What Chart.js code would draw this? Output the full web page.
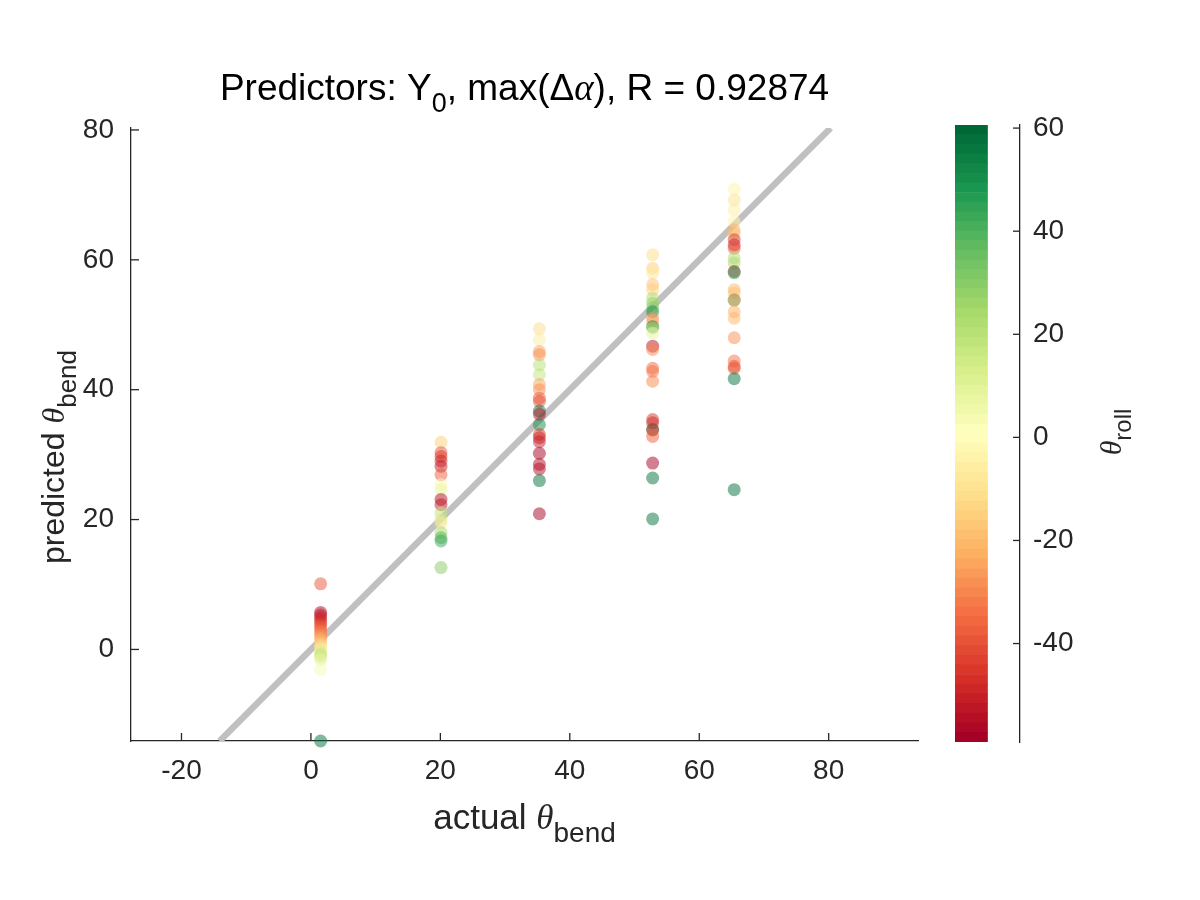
<!DOCTYPE html>
<html><head><meta charset="utf-8">
<script src="https://cdn.jsdelivr.net/npm/chart.js@4.4.0/dist/chart.umd.min.js"></script>
<style>
html,body{margin:0;padding:0;background:#fff;}
#wrap{position:relative;width:1200px;height:900px;background:#fff;}
canvas{position:absolute;left:0;top:0;}
</style></head><body>
<div id="wrap"><canvas id="main" width="1200" height="900"></canvas><canvas id="cbar" width="1200" height="900"></canvas></div>
<script>
// ---------- data ----------
const actualBend = [1.5, 20.1, 35.3, 52.8, 65.4];

const predicted1 = [10.1, 5.7, 5.3, 4.9, 4.5, 4.0, 3.6, 3.2, 2.8, 2.4, 2.0, 1.6, 1.2, 0.8, 0.4, 0.0, -0.4, -0.8, -1.2, -1.6, -3.1, -14.1];
const roll1      = [-40, -57, -52, -50, -48, -45, -40, -37, -33, -30, -27, -22, -18, -14, -10, -6, 12, 18, 15, 8, 3, 57];

const predicted2 = [31.9, 30.3, 29.7, 29.0, 28.2, 26.9, 25.4, 24.6, 23.1, 22.3, 21.0, 20.0, 19.5, 18.0, 17.2, 16.7, 12.6];
const roll2      = [-15, -40, -45, -48, -50, -38, -2, 8, -55, -52, 18, 12, -8, 25, 40, 42, 30];

const predicted3 = [49.4, 47.7, 45.9, 45.4, 43.8, 42.3, 40.8, 40.0, 38.7, 38.2, 36.7, 36.2, 34.6, 33.1, 32.6, 32.0, 30.2, 28.5, 27.8, 26.0, 20.9];
const roll3      = [-12, -5, -25, -28, 20, 18, -25, -28, -38, -40, 55, -55, 50, -45, -48, -50, -59, -55, -55, 57, -59];

const predicted4 = [60.8, 58.7, 58.0, 56.2, 55.4, 54.1, 53.3, 52.6, 52.0, 51.0, 50.5, 49.7, 49.5, 48.7, 46.7, 46.2, 43.3, 42.8, 41.3, 35.4, 34.9, 33.9, 33.8, 32.8, 28.7, 26.4, 20.1];
const roll4      = [-12, -15, -8, -18, -15, 22, 28, 30, 50, -28, -25, 55, 25, 8, -55, -30, -35, -33, -30, -45, -48, 50, -48, -38, -59, 57, 57];

const predicted5 = [70.9, 69.2, 67.7, 65.9, 64.6, 64.1, 63.1, 62.3, 61.8, 60.3, 59.5, 58.2, 58.0, 55.4, 54.9, 53.8, 53.8, 52.0, 51.0, 48.0, 44.4, 43.6, 43.3, 41.7, 24.6];
const roll5      = [-3, -10, -5, -3, -22, -18, -45, -48, -40, 22, 25, -55, 45, -20, -18, 50, -25, -22, -20, -28, -33, -38, -40, 57, 57];

const identityLine = [-14.1, 80.3];
const xTickValues = [-20, 0, 20, 40, 60, 80];
const yTickValues = [0, 20, 40, 60, 80];
const cbarTickValues = [-40, -20, 0, 20, 40, 60];
const xRange = [-27.8, 93.8];
const yRange = [-14.1, 80.3];
const rollRange = [-59.1, 60.6];

// ---------- colormap (RdYlGn, 64 levels) ----------
const rdylgn = ['#a50026','#d73027','#f46d43','#fdae61','#fee08b','#ffffbf','#d9ef8b','#a6d96a','#66bd63','#1a9850','#006837'];
const nLevels = 64;
function hex2rgb(h){return [parseInt(h.slice(1,3),16),parseInt(h.slice(3,5),16),parseInt(h.slice(5,7),16)];}
function cmap(t){
  const s = t*(rdylgn.length-1); const i = Math.min(rdylgn.length-2, Math.floor(s)); const f = s-i;
  const a = hex2rgb(rdylgn[i]), b = hex2rgb(rdylgn[i+1]);
  return a.map((v,k)=>Math.round(v+(b[k]-v)*f));
}
function levelColor(k, alpha){ const c = cmap(k/(nLevels-1)); return `rgba(${c[0]},${c[1]},${c[2]},${alpha})`; }
function rollColor(v, alpha){
  let k = Math.floor((v-rollRange[0])/(rollRange[1]-rollRange[0])*nLevels);
  k = Math.max(0, Math.min(nLevels-1, k));
  return levelColor(k, alpha);
}

const groups = [[predicted1, roll1],[predicted2, roll2],[predicted3, roll3],[predicted4, roll4],[predicted5, roll5]];
const points = [], colors = [];
groups.forEach(([pred, roll], i) => pred.forEach((p, j) => { points.push({x: actualBend[i], y: p}); colors.push(rollColor(roll[j], 0.5)); }));

// ---------- helpers ----------
const INK = '#262626';
const SANS = '"Liberation Sans", Arial, Helvetica, sans-serif';
const SERIF = '"Liberation Serif", "DejaVu Serif", serif';
function drawRich(ctx, parts, x, y, align){
  let w = 0;
  parts.forEach(p => { ctx.font = p.font; p.w = ctx.measureText(p.text).width; w += p.w; });
  let cx = align === 'center' ? x - w/2 : x;
  ctx.textBaseline = 'alphabetic'; ctx.textAlign = 'left';
  parts.forEach(p => { ctx.font = p.font; ctx.fillText(p.text, cx, y + (p.dy||0)); cx += p.w; });
}
function drawInwardTicks(ctx, scale, vals, fixed, dir, horizontal, len){
  vals.forEach(v => {
    const p = scale.getPixelForValue(v);
    ctx.beginPath();
    if (horizontal) { ctx.moveTo(p, fixed); ctx.lineTo(p, fixed + dir*len); }
    else { ctx.moveTo(fixed, p); ctx.lineTo(fixed + dir*len, p); }
    ctx.stroke();
  });
}

const mainDecor = {
  id: 'mainDecor',
  afterDraw(chart){
    const ctx = chart.ctx, a = chart.chartArea;
    ctx.save();
    ctx.strokeStyle = INK; ctx.lineWidth = 1.3;
    drawInwardTicks(ctx, chart.scales.x, xTickValues, a.bottom, -1, true, 8);
    drawInwardTicks(ctx, chart.scales.y, yTickValues, a.left, 1, false, 8);
    ctx.fillStyle = '#000';
    const cx = (a.left + a.right)/2;
    drawRich(ctx, [
      {text:'Predictors: Y', font:`37px ${SANS}`},
      {text:'0', font:`27px ${SANS}`, dy:12},
      {text:', max(\u0394', font:`37px ${SANS}`},
      {text:'\u03b1', font:`italic 37px ${SERIF}`},
      {text:'), R = 0.92874', font:`37px ${SANS}`}
    ], cx, 100, 'center');
    ctx.fillStyle = INK;
    drawRich(ctx, [
      {text:'actual ', font:`35px ${SANS}`},
      {text:'\u03b8', font:`italic 35px ${SERIF}`},
      {text:'bend', font:`28px ${SANS}`, dy:13}
    ], cx, 829, 'center');
    ctx.save();
    ctx.translate(64, 457); ctx.rotate(-Math.PI/2);
    drawRich(ctx, [
      {text:'predicted ', font:`32px ${SANS}`},
      {text:'\u03b8', font:`italic 32px ${SERIF}`},
      {text:'bend', font:`26px ${SANS}`, dy:12}
    ], 0, 0, 'center');
    ctx.restore();
    ctx.restore();
  }
};

const cbarDecor = {
  id: 'cbarDecor',
  afterDraw(chart){
    const ctx = chart.ctx, a = chart.chartArea;
    ctx.save();
    ctx.strokeStyle = INK; ctx.lineWidth = 1.3;
    drawInwardTicks(ctx, chart.scales.y, cbarTickValues, a.right, -1, false, 7);
    ctx.fillStyle = INK;
    ctx.translate(1121, 432); ctx.rotate(-Math.PI/2);
    drawRich(ctx, [
      {text:'\u03b8', font:`italic 30px ${SERIF}`},
      {text:'roll', font:`24px ${SANS}`, dy:10}
    ], 0, 0, 'center');
    ctx.restore();
  }
};

// ---------- main scatter chart ----------
new Chart(document.getElementById('main'), {
  type: 'scatter',
  data: {
    datasets: [
      { data: points, pointBackgroundColor: colors, pointBorderWidth: 0, pointRadius: 6.5, pointHoverRadius: 6.5, order: 1, clip: false },
      { data: identityLine.map(v => ({x: v, y: v})), showLine: true, borderColor: 'rgb(192,192,192)', borderWidth: 6.5, pointRadius: 0, order: 2, clip: 0, borderCapStyle: 'butt' }
    ]
  },
  options: {
    responsive: false, animation: false, events: [],
    layout: { padding: { top: 128, right: 282, left: 0, bottom: 0 } },
    plugins: { legend: { display: false }, tooltip: { enabled: false }, title: { display: false } },
    scales: {
      x: {
        type: 'linear', min: xRange[0], max: xRange[1],
        afterBuildTicks: s => { s.ticks = xTickValues.map(v => ({value: v})); },
        afterFit: s => { s.height = 159; },
        ticks: { font: { family: SANS, size: 28 }, color: INK, padding: 13, maxRotation: 0, autoSkip: false },
        grid: { display: true, drawOnChartArea: false, drawTicks: false },
        border: { display: true, color: INK, width: 1.3 }
      },
      y: {
        type: 'linear', min: yRange[0], max: yRange[1],
        afterBuildTicks: s => { s.ticks = yTickValues.map(v => ({value: v})); },
        afterFit: s => { s.width = 131; },
        ticks: { font: { family: SANS, size: 28 }, color: INK, padding: 17, autoSkip: false },
        grid: { display: true, drawOnChartArea: false, drawTicks: false },
        border: { display: true, color: INK, width: 1.3 }
      }
    }
  },
  plugins: [mainDecor]
});

// ---------- colorbar ----------
const step = (rollRange[1]-rollRange[0])/nLevels;
const cbDatasets = [];
for (let k = 0; k < nLevels; k++) {
  cbDatasets.push({ data: [[rollRange[0]+k*step, rollRange[0]+(k+1)*step]], backgroundColor: levelColor(k, 1), borderWidth: 0, grouped: false, barPercentage: 1, categoryPercentage: 1 });
}
new Chart(document.getElementById('cbar'), {
  type: 'bar',
  data: { labels: ['cb'], datasets: cbDatasets },
  options: {
    responsive: false, animation: false, events: [],
    layout: { padding: { top: 125, right: 0, left: 955, bottom: 158 } },
    plugins: { legend: { display: false }, tooltip: { enabled: false } },
    scales: {
      x: { display: false, offset: false },
      y: {
        position: 'right', min: rollRange[0], max: rollRange[1],
        afterBuildTicks: s => { s.ticks = cbarTickValues.map(v => ({value: v})); },
        afterFit: s => { s.width = 180; },
        ticks: { font: { family: SANS, size: 28 }, color: INK, padding: 13, autoSkip: false },
        grid: { display: true, drawOnChartArea: false, drawTicks: false },
        border: { display: true, color: INK, width: 1.3 }
      }
    }
  },
  plugins: [cbarDecor]
});
</script>
</body></html>
